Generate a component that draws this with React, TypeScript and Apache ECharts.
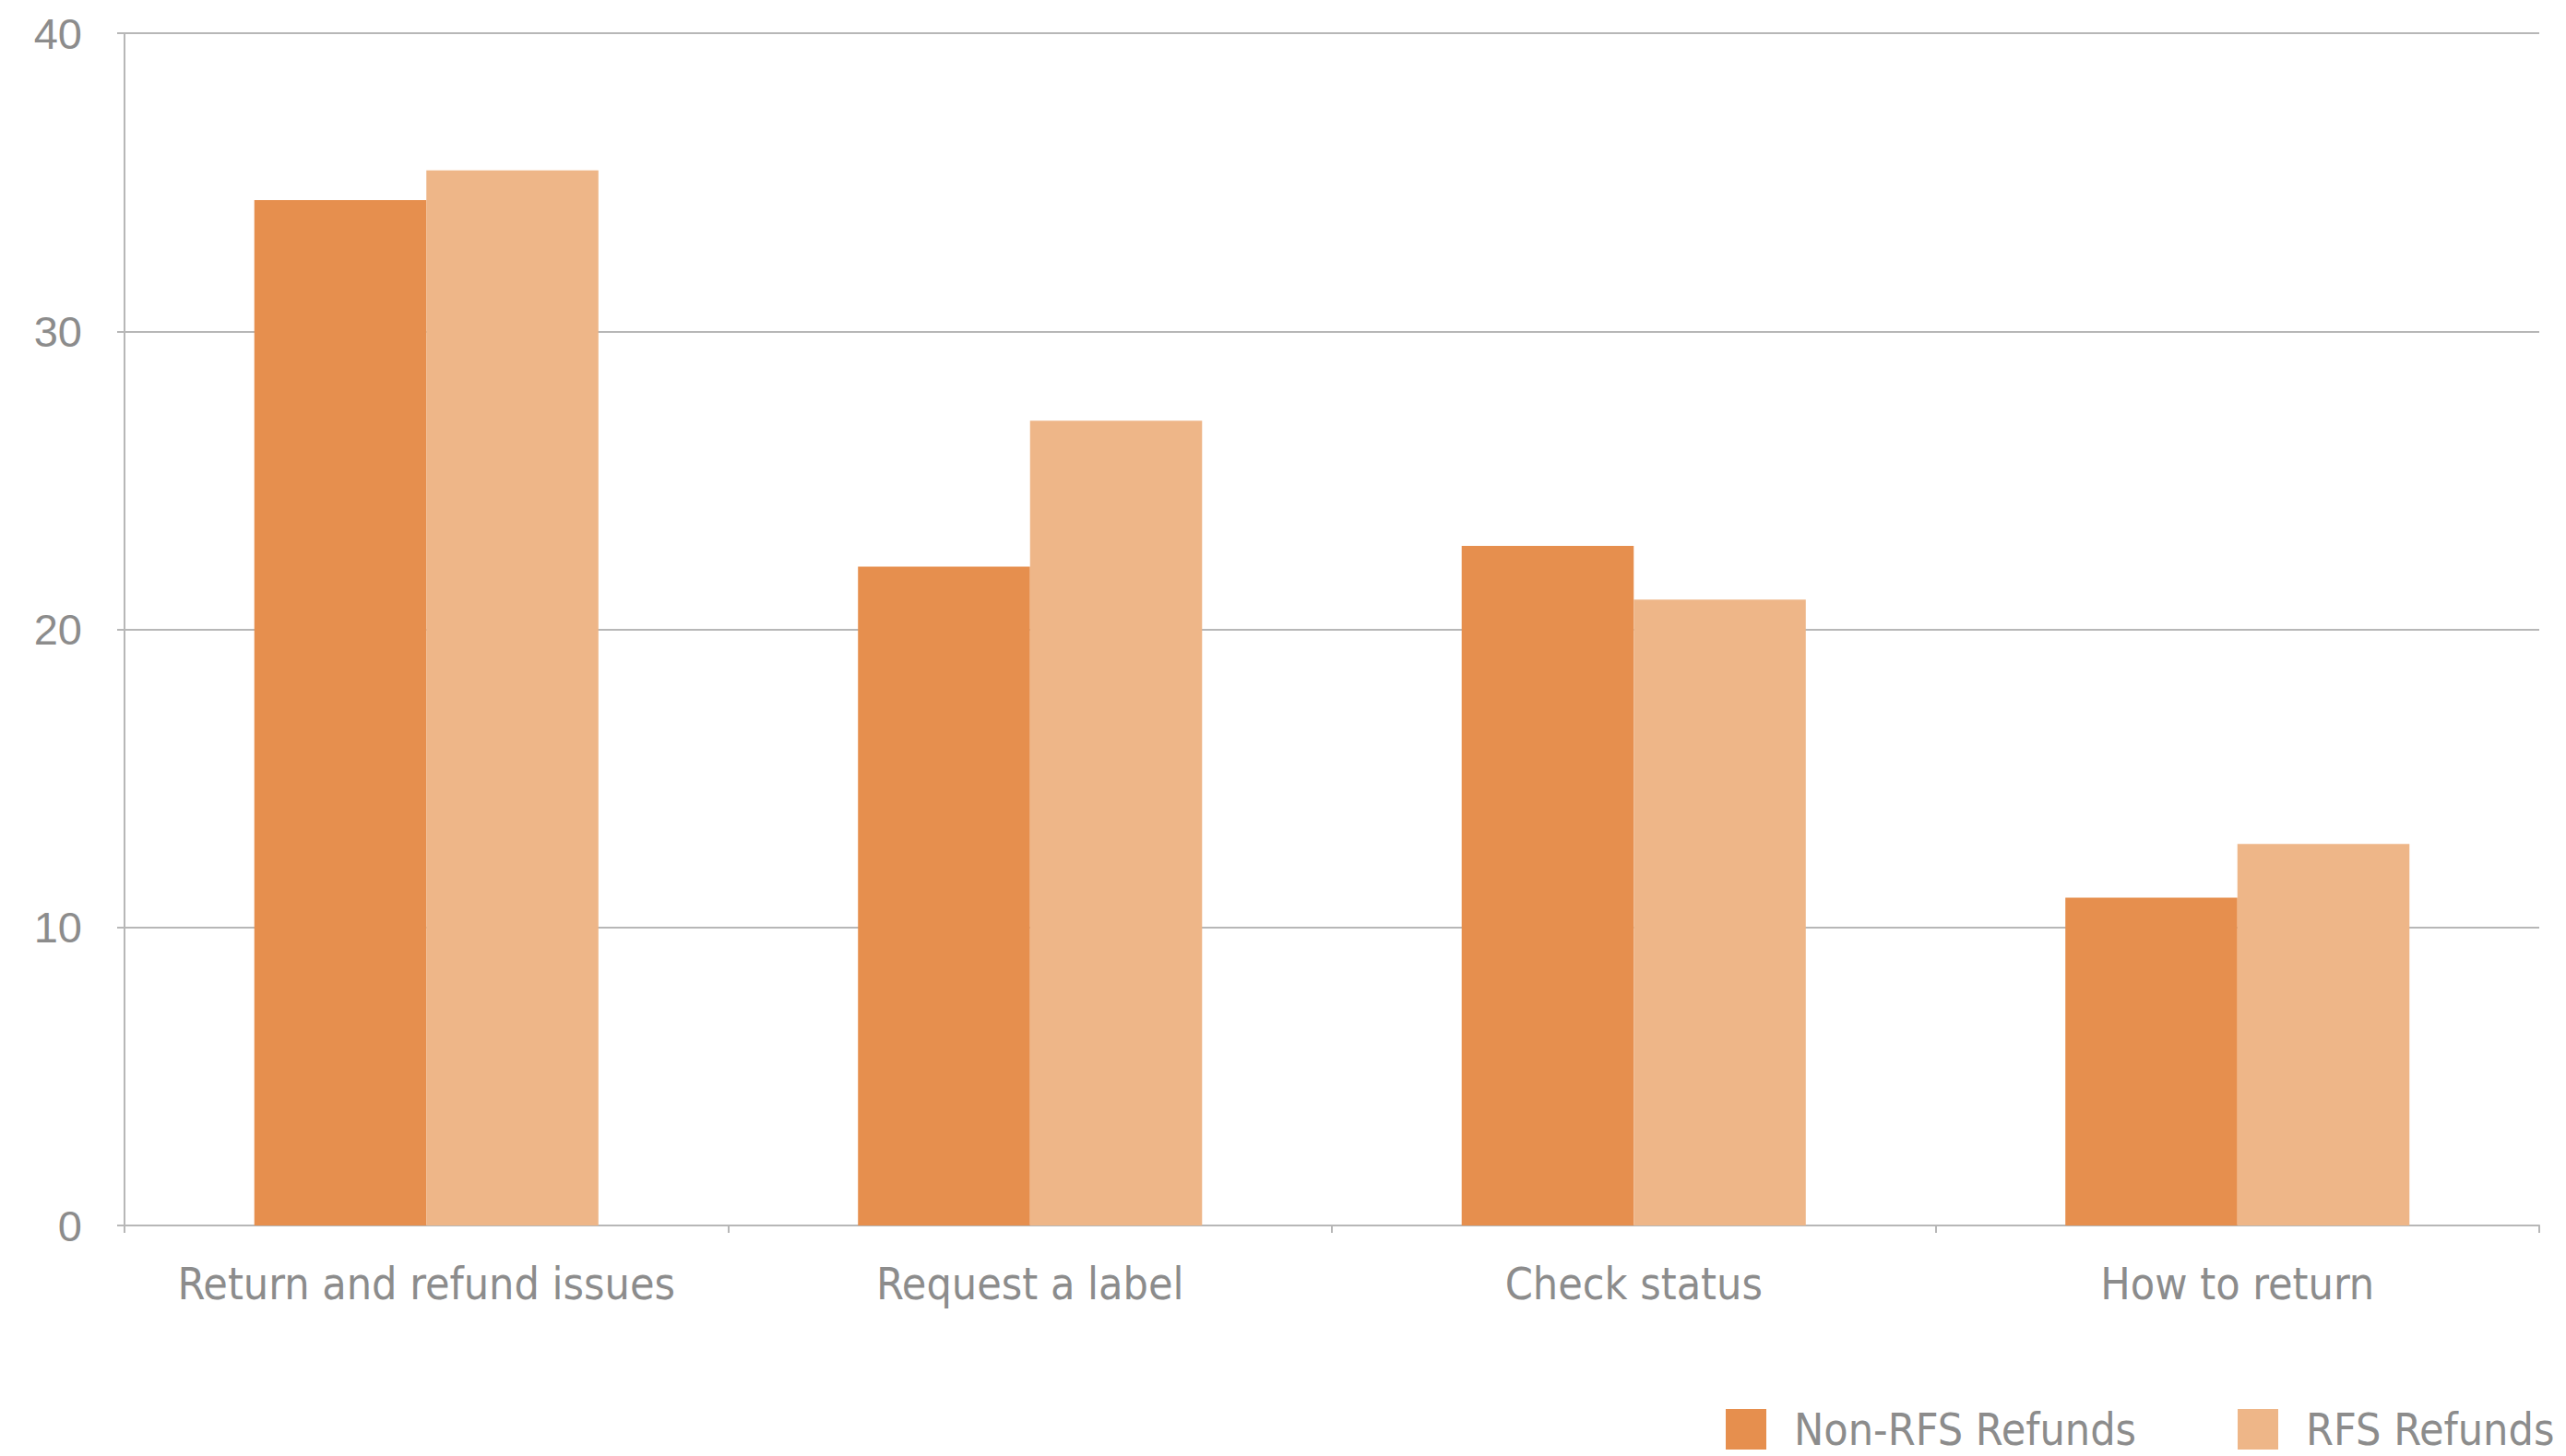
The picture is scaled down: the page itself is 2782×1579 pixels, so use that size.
import React, { useEffect, useRef } from "react";
import * as echarts from "echarts";

// Contact reasons and the share for each refund type
const categories = ["Return and refund issues", "Request a label", "Check status", "How to return"];
const nonRfsRefunds = [34.4, 22.1, 22.8, 11.0];
const rfsRefunds = [35.4, 27.0, 21.0, 12.8];
const yTicks = [0, 10, 20, 30, 40];

const seriesNames = ["Non-RFS Refunds", "RFS Refunds"];
const colors = ["#E68F4E", "#EEB688"];

const LINE = "#b7b7b7";
const TEXT = "#8c8c8c";
const NARROW = "'Liberation Sans Narrow', 'DejaVu Sans Condensed', 'Noto Sans', sans-serif";

export default function App() {
  const ref = useRef<HTMLDivElement | null>(null);

  useEffect(() => {
    if (!ref.current) return;
    const chart = echarts.init(ref.current, null, { renderer: "svg" });
    const legendText = { fontFamily: NARROW, fontSize: 48, color: TEXT, padding: [4, 0, 0, 25] };
    chart.setOption({
      animation: false,
      backgroundColor: "#ffffff",
      grid: { left: 135, right: 29, top: 36, bottom: 250, containLabel: false },
      legend: [
        {
          data: [seriesNames[0]],
          left: 1871,
          top: 1526,
          padding: 0,
          itemWidth: 44,
          itemHeight: 44,
          icon: "rect",
          selectedMode: false,
          textStyle: legendText,
        },
        {
          data: [seriesNames[1]],
          left: 2426,
          top: 1526,
          padding: 0,
          itemWidth: 44,
          itemHeight: 44,
          icon: "rect",
          selectedMode: false,
          textStyle: legendText,
        },
      ],
      xAxis: {
        type: "category",
        data: categories,
        axisLine: { show: true, lineStyle: { color: LINE, width: 2 } },
        axisTick: { show: true, length: 8, lineStyle: { color: LINE, width: 2 } },
        axisLabel: { interval: 0, fontFamily: NARROW, fontSize: 48, color: TEXT, margin: 39 },
        splitLine: { show: false },
      },
      yAxis: {
        type: "value",
        min: yTicks[0],
        max: yTicks[yTicks.length - 1],
        interval: 10,
        axisLine: { show: true, lineStyle: { color: LINE, width: 2 } },
        axisTick: { show: true, length: 8, lineStyle: { color: LINE, width: 2 } },
        axisLabel: { fontFamily: "'Liberation Sans', Arial, sans-serif", fontSize: 47, color: TEXT, margin: 46 },
        splitLine: { show: true, lineStyle: { color: LINE, width: 2 } },
      },
      series: [
        {
          name: seriesNames[0],
          type: "bar",
          data: nonRfsRefunds,
          itemStyle: { color: colors[0] },
          barGap: "0%",
          barCategoryGap: "43%",
        },
        {
          name: seriesNames[1],
          type: "bar",
          data: rfsRefunds,
          itemStyle: { color: colors[1] },
          barGap: "0%",
          barCategoryGap: "43%",
        },
      ],
    });
    return () => chart.dispose();
  }, []);

  return (
    <div
      ref={ref}
      style={{ position: "fixed", left: 0, top: 0, width: 2782, height: 1579, background: "#fff" }}
    />
  );
}
